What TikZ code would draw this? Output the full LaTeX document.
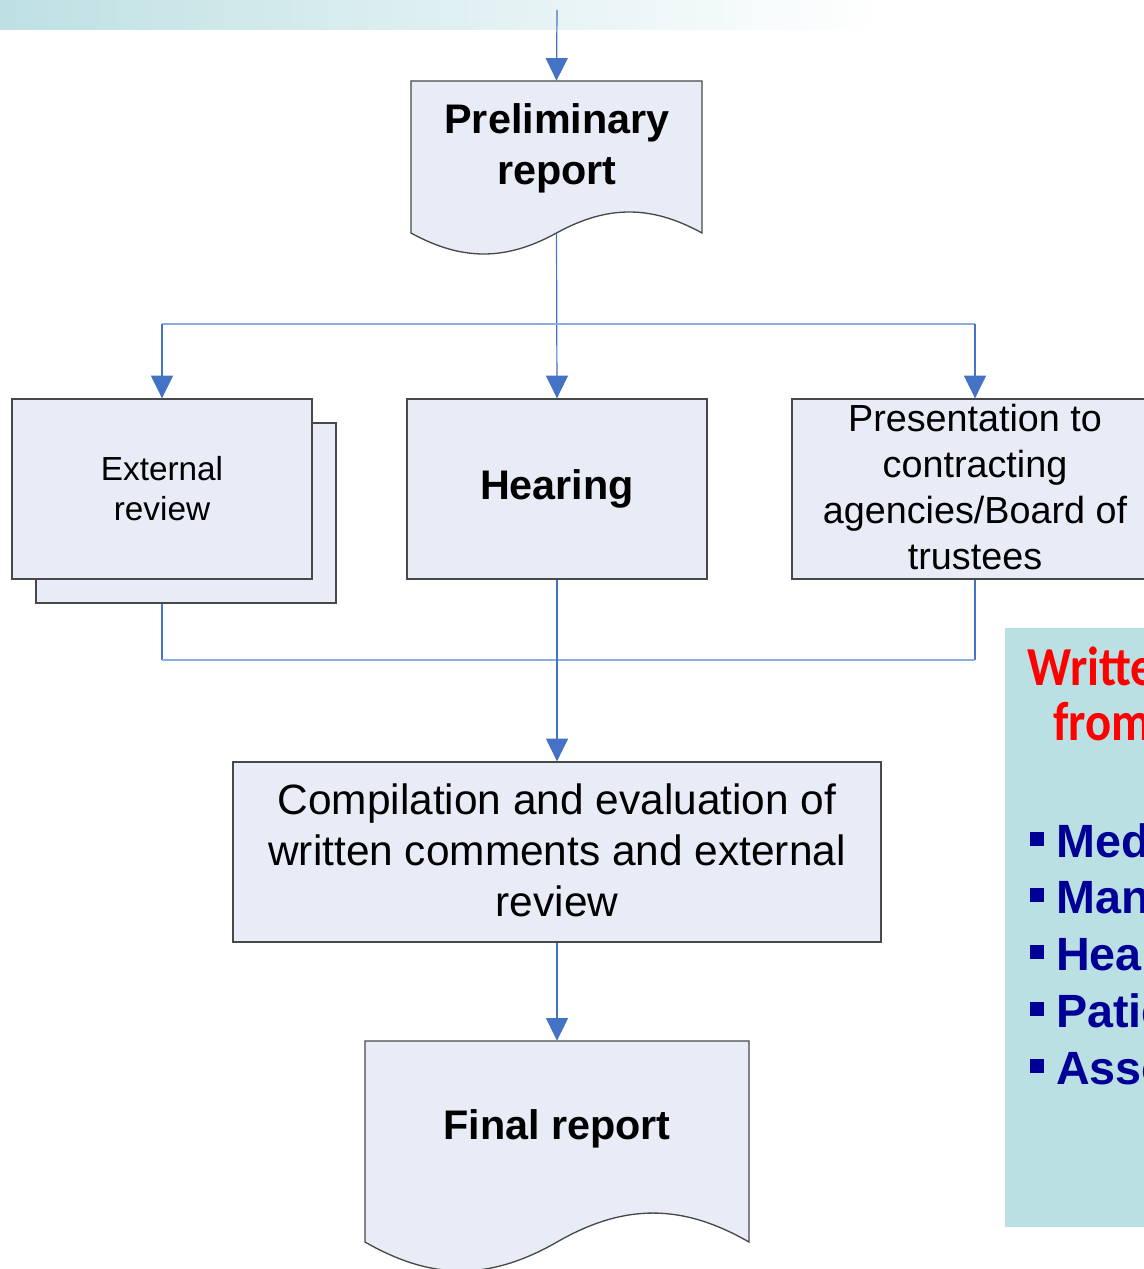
\documentclass[tikz,border=0pt]{standalone}
\usepackage{fontspec}
\usepackage{graphicx}
\setmainfont{Liberation Sans}
\newfontfamily\headfont{Carlito}
\usetikzlibrary{arrows.meta}
\definecolor{flowblue}{RGB}{68,114,196}
\definecolor{linkblue}{RGB}{140,172,224}
\definecolor{boxfill}{RGB}{231,236,247}
\definecolor{boxline}{RGB}{72,72,72}
\definecolor{panelteal}{RGB}{187,224,227}
\definecolor{barteal}{RGB}{190,224,227}
\definecolor{notered}{RGB}{255,0,0}
\definecolor{notenavy}{RGB}{0,0,150}
\begin{document}
\begin{tikzpicture}[x=0.75pt,y=-0.75pt,
  box/.style={draw=boxline, fill=boxfill, line width=1pt, inner sep=0pt,
    minimum width=225pt, minimum height=135pt},
  docshape/.style={draw=boxline, fill=boxfill, line width=1pt},
  label/.style={align=center, inner sep=0pt, text=black},
  bigbold/.style={label, font=\fontsize{31}{38.2}\selectfont\bfseries},
  conn/.style={draw=flowblue, line width=0.9pt},
  link/.style={draw=linkblue, line width=1pt},
  arr/.style={conn, -{Triangle[length=17pt,width=16.5pt]}},
  headtext/.style={anchor=base west, inner sep=0pt, text=notered,
    font=\headfont\fontsize{36.5}{42}\selectfont\bfseries},
  bulletsq/.style={fill=notenavy, minimum size=10pt, inner sep=0pt},
  bullettext/.style={anchor=base west, inner sep=0pt, text=notenavy,
    font=\fontsize{35}{42}\selectfont\bfseries}]
\useasboundingbox (0,0) rectangle (1144,1269);
\clip (0,0) rectangle (1144,1269);

% header band fading to white
\shade[left color=barteal, right color=white] (0,0) rectangle (880,30);

% side panel with the list of commenters
\fill[panelteal] (1005,628) rectangle (1160,1227);
\node[headtext] (w1) at (1027,685) {\scalebox{1}[1.13]{Written}};
\node[headtext] (w2) at (1053,740) {\scalebox{1}[1.13]{from}};
\foreach \yy/\word [count=\i] in {857/Medical, 913/Manufacturers, 970/Health,
    1027/Patients, 1084/Associations}{
  \node[bulletsq] (b\i) at (1037,\yy-18) {};
  \node[bullettext] (t\i) at (1056,\yy) {\word};
}

% preliminary report (document shape)
\node[inner sep=0pt, minimum width=218.25pt, minimum height=114pt] (pre) at (556.5,157) {};
\path[docshape] (411,81) -- (702,81) -- (702,233)
  .. controls (651.1,205) and (607.4,205) .. (556.5,233)
  .. controls (505.6,261) and (461.9,261) .. (411,233) -- cycle;
\node[bigbold] (pretext) at (557,148) {Preliminary\\report};

% three parallel reviews
\node[box] (extback) at (186,513) {};
\node[box, align=center, font=\fontsize{25}{30}\selectfont] (ext) at (162,489) {External\\review};
\node[box, bigbold] (hear) at (557,489) {Hearing};
\node[box, minimum width=274.5pt, align=center, font=\fontsize{28.3}{34.5}\selectfont] (pres) at (975,489)
  {Presentation to\\contracting\\agencies/Board of\\trustees\rule[-4pt]{0pt}{0pt}};

% compilation
\node[box, minimum width=486pt, align=center, font=\fontsize{31.8}{38.2}\selectfont] (comp) at (557,852)
  {Compilation and evaluation of\\written comments and external\\review\rule[-3pt]{0pt}{0pt}};

% final report (document shape)
\node[inner sep=0pt, minimum width=288pt, minimum height=150.75pt] (fin) at (557,1141.5) {};
\path[docshape] (365,1041) -- (749,1041) -- (749,1242)
  .. controls (681.8,1203.4) and (624.2,1203.4) .. (557,1242)
  .. controls (489.8,1280.6) and (432.2,1280.6) .. (365,1242) -- cycle;
\node[bigbold] (fintext) at (557,1129) {Final report};

% connectors
\coordinate (entry) at (557,10);
\coordinate (fork) at (557,324);
\coordinate (join) at (557,660);
\draw[arr] (entry) -- (pre.north);
\draw[arr] (pre.south) -- (hear.north);
\draw[link] (ext.north |- fork) -- (pres.north |- fork);
\draw[arr] (ext.north |- fork) -- (ext.north);
\draw[arr] (pres.north |- fork) -- (pres.north);
\draw[conn] (ext.south |- extback.south) -- (ext.south |- join);
\draw[conn] (pres.south) -- (pres.south |- join);
\draw[link] (ext.south |- join) -- (pres.south |- join);
\draw[arr] (hear.south) -- (comp.north);
\draw[arr] (comp.south) -- (fin.north);
\end{tikzpicture}
\end{document}
